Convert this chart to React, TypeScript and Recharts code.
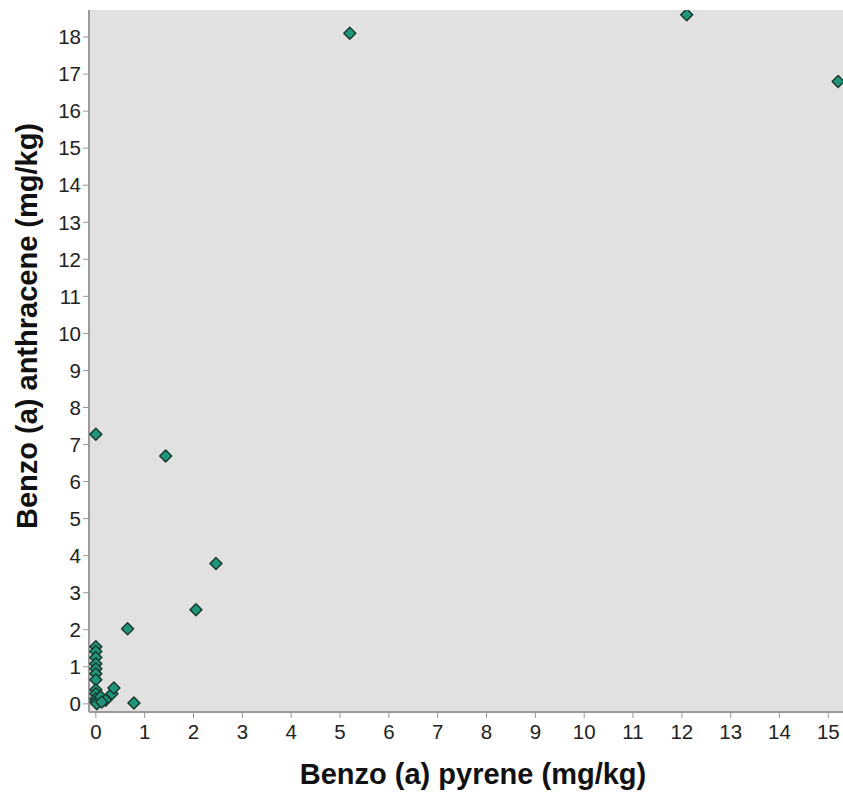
import React from "react";
import { ScatterChart, Scatter, XAxis, YAxis, CartesianGrid } from "recharts";

const benzoPyrene = [5.2, 12.1, 15.2, 0.0, 1.43, 2.46, 2.05, 0.65, 0.78, 0, 0, 0, 0, 0, 0, 0, 0, 0, 0, 0, 0.02, 0.1, 0.2, 0.12, 0.33, 0.37];
const benzoAnthracene = [18.1, 18.6, 16.8, 7.28, 6.69, 3.79, 2.54, 2.03, 0.02, 1.54, 1.41, 1.25, 1.08, 0.95, 0.81, 0.65, 0.38, 0.27, 0.14, 0.05, 0.0, 0.19, 0.1, 0.05, 0.27, 0.43];
const xTicks = [0, 1, 2, 3, 4, 5, 6, 7, 8, 9, 10, 11, 12, 13, 14, 15];
const yTicks = [0, 1, 2, 3, 4, 5, 6, 7, 8, 9, 10, 11, 12, 13, 14, 15, 16, 17, 18];

const data = benzoPyrene.map((x, i) => ({ x, y: benzoAnthracene[i] }));

const Diamond = (props: any) => {
  const { cx, cy } = props;
  const r = 6;
  return (
    <path
      d={`M${cx},${cy - r}L${cx + r},${cy}L${cx},${cy + r}L${cx - r},${cy}Z`}
      fill="#21957a"
      stroke="#16362c"
      strokeWidth={1.4}
      strokeLinejoin="round"
    />
  );
};

const font = "Arial, 'Liberation Sans', sans-serif";

export default function App() {
  return (
    <div style={{ position: "absolute", left: 0, top: 0, width: 843, height: 797, background: "#fff" }}>
      <ScatterChart width={843} height={797} margin={{ top: 10, right: 0, bottom: 0, left: 0 }}>
        <CartesianGrid horizontal={false} vertical={false} fill="#e1e1e1" />
        <XAxis
          type="number"
          dataKey="x"
          domain={[-0.14, 15.3]}
          ticks={xTicks}
          allowDataOverflow
          height={85}
          axisLine={{ stroke: "#9a9a9a", strokeWidth: 2 }}
          tickLine={{ stroke: "#999" }}
          tickSize={6}
          tickMargin={6}
          tick={{ fill: "#222", fontSize: 20.5, fontFamily: font }}
          label={{ value: "Benzo (a) pyrene (mg/kg)", position: "insideBottom", offset: 13, dx: 7, style: { fill: "#111", fontSize: 29, fontWeight: "bold", fontFamily: font } }}
        />
        <XAxis
          xAxisId="top"
          orientation="top"
          type="number"
          dataKey="x"
          domain={[-0.14, 15.3]}
          height={0}
          tick={false}
          tickLine={false}
          axisLine={{ stroke: "#9a9a9a", strokeWidth: 2 }}
        />
        <YAxis
          type="number"
          dataKey="y"
          domain={[-0.22, 18.73]}
          ticks={yTicks}
          allowDataOverflow
          width={89}
          axisLine={{ stroke: "#9a9a9a", strokeWidth: 2 }}
          tickLine={{ stroke: "#999" }}
          tickSize={6}
          tickMargin={2}
          tick={{ fill: "#222", fontSize: 20.5, fontFamily: font }}
          label={{ value: "Benzo (a) anthracene (mg/kg)", angle: -90, position: "insideLeft", dx: 22, dy: -35, style: { textAnchor: "middle", fill: "#111", fontSize: 29, fontWeight: "bold", fontFamily: font } }}
        />
        <Scatter data={data} shape={<Diamond />} isAnimationActive={false} />
      </ScatterChart>
    </div>
  );
}
